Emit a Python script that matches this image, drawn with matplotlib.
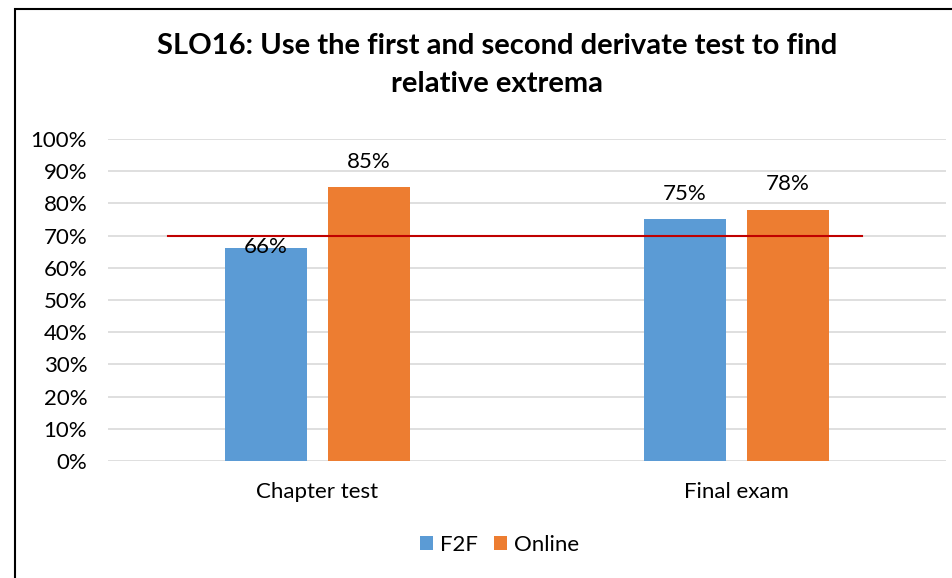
import matplotlib.pyplot as plt
from matplotlib.patches import Rectangle
import numpy as np

plt.rcParams['font.family'] = ['Lato', 'DejaVu Sans']

categories = ['Chapter test', 'Final exam']
f2f = [66, 75]
online = [85, 78]
target = 70
yticks = [0, 10, 20, 30, 40, 50, 60, 70, 80, 90, 100]
title = 'SLO16: Use the first and second derivate test to find\nrelative extrema'

fig = plt.figure(figsize=(9.53, 5.78), dpi=100)
# outer chart frame (runs off the right/bottom of the picture)
fig.patches.append(Rectangle((15 / 953, -1), 2, 2 - 9 / 578, transform=fig.transFigure,
                             fill=False, edgecolor='black', linewidth=1.5))

ax = fig.add_axes([108 / 953, 1 - 461 / 578, 838 / 953, 322 / 578])
x = np.arange(len(categories))
w = 0.196
off = 0.123
b1 = ax.bar(x - off, f2f, w, color='#5B9BD5', label='F2F', zorder=2)
b2 = ax.bar(x + off, online, w, color='#ED7D31', label='Online', zorder=2)
ax.plot([-0.357, 1.30], [target, target], color='#C00000', linewidth=1.5, zorder=3)

# data labels
for bars, vals in ((b1, f2f), (b2, online)):
    for rect, v in zip(bars, vals):
        dy = 0.6 if v < target else 8
        ax.text(rect.get_x() + rect.get_width() / 2, v + dy, f'{v}%',
                ha='center', va='center', fontsize=16, color='#000000', zorder=4)

ax.set_xlim(-0.5, 1.5)
ax.set_ylim(0, 100)
ax.set_yticks(yticks)
ax.set_yticklabels([f'{t}%' for t in yticks])
ax.set_xticks(x)
ax.set_xticklabels(categories)
ax.tick_params(length=0, labelsize=16, colors='#000000')
ax.tick_params(axis='y', pad=15)
ax.tick_params(axis='x', pad=15)
ax.grid(axis='y', color='#D9D9D9', linewidth=1.2, zorder=0)
for s in ax.spines.values():
    s.set_visible(False)

fig.text(0.522, 1 - 65 / 578, title, ha='center', va='center', fontsize=21,
         fontweight='bold', linespacing=1.6)

ax.legend(loc='center', bbox_to_anchor=(0.524, 1 - 545 / 578), bbox_transform=fig.transFigure,
          ncol=2, frameon=False, fontsize=16, handlelength=0.6, handleheight=0.6,
          handletextpad=0.3, columnspacing=0.7)

fig.savefig('out.png', dpi=100)
